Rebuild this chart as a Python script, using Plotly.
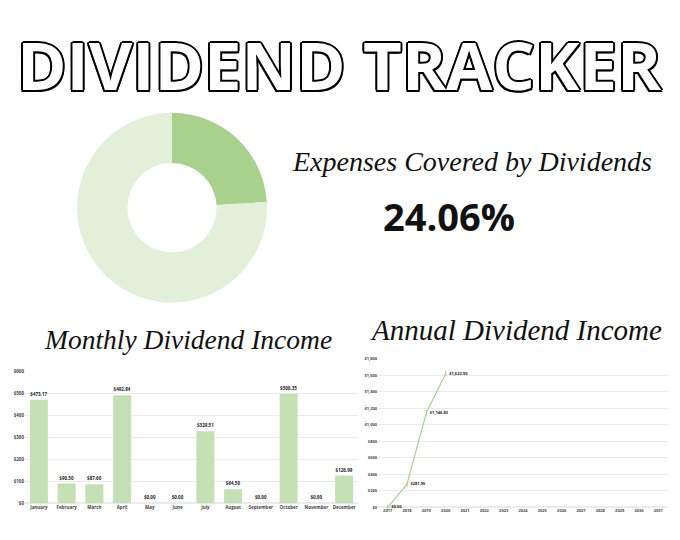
import plotly.graph_objects as go

W, H = 680, 540

# ---- data ----
pie_labels = ["Covered", "Not covered"]
pie_values = [24.06, 75.94]
coverage_text = "24.06%"

months = ["January", "February", "March", "April", "May", "June", "July",
          "August", "September", "October", "November", "December"]
monthly_income = [473.17, 90.50, 87.60, 492.84, 0.00, 0.00, 329.51,
                  64.50, 0.00, 500.35, 0.00, 126.99]

years = [str(y) for y in range(2017, 2032)]
annual_years = ["2017", "2018", "2019", "2020"]
annual_income = [0.00, 281.95, 1146.83, 1622.90]

DARK_GREEN = "#a9d18e"
LIGHT_GREEN = "#e2f0d9"
BAR_GREEN = "#c5e0b4"
GRID = "#ebebeb"


def px(x):
    return x / W


def py(y):
    return 1 - y / H


fig = go.Figure()

fig.add_trace(go.Pie(
    labels=pie_labels, values=pie_values, hole=0.47, sort=False,
    direction="clockwise", rotation=0,
    marker=dict(colors=[DARK_GREEN, LIGHT_GREEN], line=dict(width=0)),
    textinfo="none", hoverinfo="skip", showlegend=False,
    domain=dict(x=[px(76), px(268)], y=[py(303), py(111)]),
))

fig.add_trace(go.Bar(
    x=months, y=monthly_income, marker=dict(color=BAR_GREEN, line=dict(width=0)),
    width=0.65,
    texttemplate="$%{y:,.2f}", textposition="outside", cliponaxis=False,
    textfont=dict(size=4.5, color="#222", family="Open Sans", weight="bold"),
    xaxis="x", yaxis="y", showlegend=False,
))

fig.add_trace(go.Scatter(
    x=annual_years, y=annual_income, mode="lines+markers+text",
    line=dict(color=DARK_GREEN, width=1.2),
    marker=dict(symbol="line-ns", size=4, color=DARK_GREEN, line=dict(width=1, color=DARK_GREEN)),
    text=[f"${v:,.2f}" for v in annual_income], textposition="middle right",
    textfont=dict(size=4, color="#222", family="Open Sans", weight="bold"),
    cliponaxis=False,
    xaxis="x2", yaxis="y2", showlegend=False,
))

tickfont = dict(size=4.5, color="#444", family="Open Sans", weight="bold")

fig.update_layout(
    width=W, height=H, margin=dict(l=0, r=0, t=0, b=0),
    paper_bgcolor="white", plot_bgcolor="white",
    bargap=0.35,
    xaxis=dict(domain=[px(25), px(358)], showgrid=False, showline=False,
               tickfont=tickfont, ticks="", fixedrange=True,
               categoryorder="array", categoryarray=months),
    yaxis=dict(domain=[py(506), py(373)], range=[0, 600], dtick=100,
               tickprefix="$", tickformat=",d", showgrid=True, gridcolor=GRID,
               gridwidth=1, zeroline=True, zerolinecolor=GRID, showline=False,
               tickfont=tickfont, ticks=""),
    xaxis2=dict(domain=[px(378), px(668)], anchor="y2", showgrid=False,
                showline=False, type="category", categoryorder="array",
                categoryarray=years, range=[-0.5, len(years) - 0.5],
                tickfont=dict(size=4, color="#444", family="Open Sans", weight="bold"),
                ticks=""),
    yaxis2=dict(domain=[py(510), py(360)], anchor="x2", range=[0, 1800], dtick=200,
                tickprefix="$", tickformat=",d", showgrid=True, gridcolor=GRID,
                zeroline=True, zerolinecolor=GRID, showline=False,
                tickfont=dict(size=4, color="#444", family="Open Sans", weight="bold"),
                ticks=""),
)

outline = ", ".join(f"{dx}px {dy}px 0 #000" for dx, dy in
                    [(2, 0), (-2, 0), (0, 2), (0, -2), (1.5, 1.5), (-1.5, 1.5),
                     (1.5, -1.5), (-1.5, -1.5)])

annotations = [
    dict(text="DIVIDEND TRACKER", x=px(339), y=py(62),
         font=dict(family="Open Sans", size=67, color="white",
                   weight="bold", shadow=outline)),
    dict(text="Expenses Covered by Dividends", x=px(472), y=py(160),
         font=dict(family="Liberation Serif", size=28, color="#111", style="italic")),
    dict(text=coverage_text, x=px(449), y=py(215),
         font=dict(family="Open Sans", size=38, color="#111", weight="bold")),
    dict(text="Monthly Dividend Income", x=px(188), y=py(340),
         font=dict(family="Liberation Serif", size=27.5, color="#111", style="italic")),
    dict(text="Annual Dividend Income", x=px(516), y=py(331),
         font=dict(family="Liberation Serif", size=29, color="#111", style="italic")),
]
for a in annotations:
    a.update(xref="paper", yref="paper", showarrow=False, xanchor="center", yanchor="middle")
fig.update_layout(annotations=annotations)

fig.write_html("out.html")
